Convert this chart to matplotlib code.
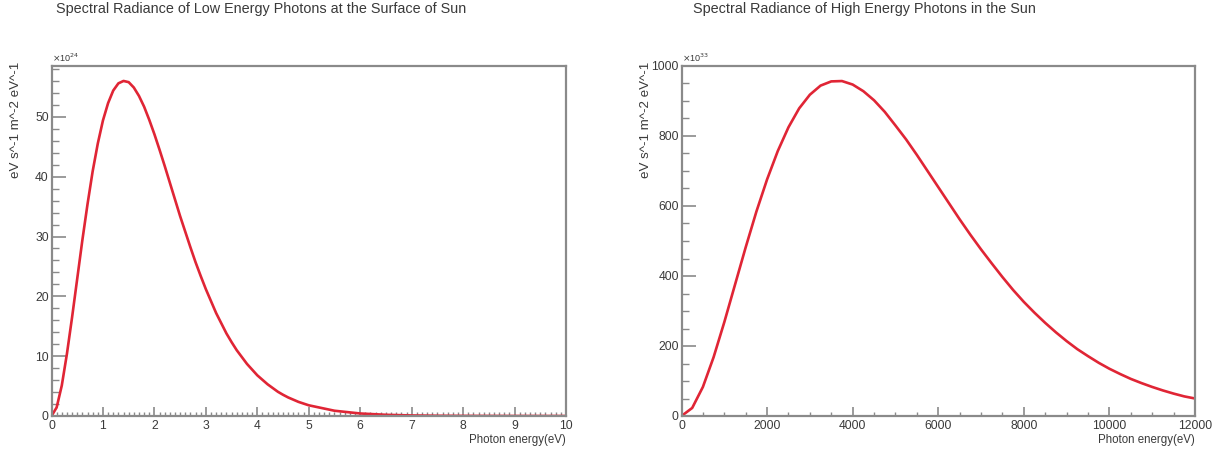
import matplotlib
matplotlib.use("Agg")
import matplotlib.pyplot as plt
from matplotlib.ticker import MultipleLocator

plt.rcParams['font.family'] = ['Liberation Sans', 'DejaVu Sans']

# ---- data ----
low_energy = [0.0, 0.1, 0.2, 0.3, 0.4, 0.5, 0.6, 0.7, 0.8, 0.9, 1.0, 1.1, 1.2, 1.3,
              1.4, 1.5, 1.6, 1.7, 1.8, 1.9, 2.0, 2.1, 2.2, 2.3, 2.4, 2.5, 2.6, 2.7,
              2.8, 2.9, 3.0, 3.2, 3.4, 3.5, 3.6, 3.8, 4.0, 4.2, 4.4, 4.5, 4.6, 4.8,
              5.0, 5.5, 6.0, 6.5, 7.0, 7.5, 8.0, 9.0, 10.0]
low_radiance = [0.0, 1.43, 5.1, 10.4, 16.5, 22.95, 29.4, 35.4, 40.9, 45.55, 49.4,
                52.3, 54.4, 55.6, 56.0, 55.8, 54.9, 53.5, 51.7, 49.5, 47.1, 44.5,
                41.8, 39.0, 36.2, 33.4, 30.8, 28.2, 25.7, 23.4, 21.2, 17.2, 13.8,
                12.35, 11.0, 8.7, 6.8, 5.3, 4.05, 3.55, 3.1, 2.36, 1.79, 0.88, 0.42,
                0.2, 0.09, 0.04, 0.02, 0.004, 0.001]  # x1e24

high_energy = [0, 250, 500, 750, 1000, 1250, 1500, 1750, 2000, 2250, 2500, 2750,
               3000, 3250, 3500, 3750, 4000, 4250, 4500, 4750, 5000, 5250, 5500,
               5750, 6000, 6250, 6500, 6750, 7000, 7250, 7500, 7750, 8000, 8250,
               8500, 8750, 9000, 9250, 9500, 9750, 10000, 10250, 10500, 10750,
               11000, 11250, 11500, 11750, 12000]
high_radiance = [0, 23, 83, 168, 268, 375, 482, 584, 676, 757, 825, 879, 918, 944,
                 956, 957, 947, 928, 902, 869, 830, 790, 746, 700, 654, 608, 562,
                 518, 476, 436, 397, 360, 326, 295, 266, 239, 214, 191, 171, 152,
                 135, 120, 106, 94, 83, 73, 64, 56, 50]  # x1e33

titles = ["Spectral Radiance of Low Energy Photons at the Surface of Sun",
          "Spectral Radiance of High Energy Photons in the Sun"]
ylabel = "eV s^-1 m^-2 eV^-1"
xlabel = "Photon energy(eV)"
multipliers = [r"$\times$10$^{24}$", r"$\times$10$^{33}$"]

W, H = 1230, 455
fig = plt.figure(figsize=(W / 100, H / 100), dpi=100)

frame_col = '#8a8a8a'
text_col = '#3a3a3a'
line_col = '#e02535'


def ax_rect(x0, x1, ytop, ybot):
    return [x0 / W, 1 - ybot / H, (x1 - x0) / W, (ybot - ytop) / H]


ax1 = fig.add_axes(ax_rect(51.5, 566, 66, 416))
ax2 = fig.add_axes(ax_rect(681.5, 1195, 66, 416))

ax1.plot(low_energy, low_radiance, color=line_col, lw=1.9, solid_capstyle='round',
         solid_joinstyle='round')
ax1.set_xlim(0, 10)
ax1.set_ylim(0, 58.5)
ax1.xaxis.set_major_locator(MultipleLocator(1))
ax1.xaxis.set_minor_locator(MultipleLocator(0.1))
ax1.yaxis.set_major_locator(MultipleLocator(10))
ax1.yaxis.set_minor_locator(MultipleLocator(2))

ax2.plot(high_energy, high_radiance, color=line_col, lw=1.9, solid_capstyle='round',
         solid_joinstyle='round')
ax2.set_xlim(0, 12000)
ax2.set_ylim(0, 1000)
ax2.xaxis.set_major_locator(MultipleLocator(2000))
ax2.xaxis.set_minor_locator(MultipleLocator(500))
ax2.yaxis.set_major_locator(MultipleLocator(200))
ax2.yaxis.set_minor_locator(MultipleLocator(50))

for ax in (ax1, ax2):
    for sp in ax.spines.values():
        sp.set_color(frame_col)
        sp.set_linewidth(1.6)
    ax.tick_params(axis='both', which='both', direction='in', color=frame_col,
                   labelcolor=text_col, labelsize=8.7, top=False, right=False)
    ax.tick_params(axis='x', which='major', length=6.5, width=1.2, pad=3)
    ax.tick_params(axis='x', which='minor', length=3.2, width=1.0)
    ax.tick_params(axis='y', which='major', length=10, width=1.2, pad=2)
    ax.tick_params(axis='y', which='minor', length=5, width=1.0)
    ax.set_xlabel(xlabel, fontsize=8.3, color=text_col, loc='right', labelpad=1)
    ax.set_zorder(1)

# titles
fig.text(261 / W, 1 - 9 / H, titles[0], ha='center', va='center', fontsize=10.4,
         color=text_col)
fig.text(864 / W, 1 - 9 / H, titles[1], ha='center', va='center', fontsize=10.4,
         color=text_col)

# y labels (ROOT style: aligned to top of axis)
fig.text(16 / W, 1 - 62 / H, ylabel, rotation=90, ha='center', va='top',
         fontsize=9.6, color=text_col)
fig.text(646 / W, 1 - 62 / H, ylabel, rotation=90, ha='center', va='top',
         fontsize=9.6, color=text_col)

# multipliers
fig.text(52 / W, 1 - 58 / H, multipliers[0], ha='left', va='center', fontsize=6.5,
         color=text_col)
fig.text(682 / W, 1 - 58 / H, multipliers[1], ha='left', va='center', fontsize=6.5,
         color=text_col)

fig.savefig("out.png", dpi=100, facecolor='white')
